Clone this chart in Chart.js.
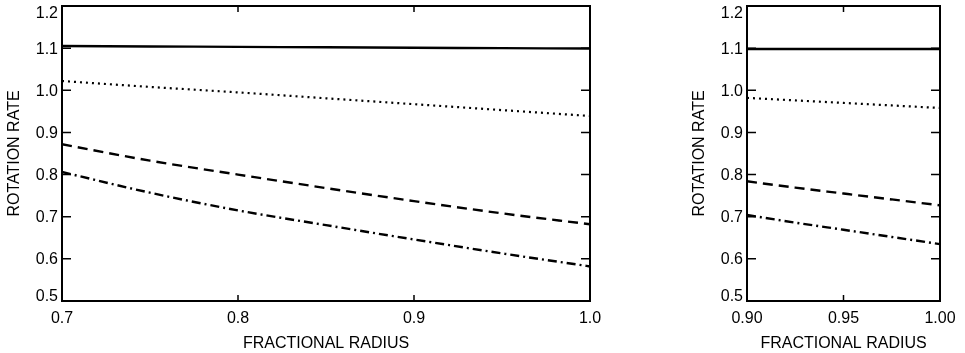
<!DOCTYPE html>
<html lang="en">
<head>
    <meta charset="UTF-8">
    <title>Rotation rate vs fractional radius</title>
    <script src="https://cdn.jsdelivr.net/npm/chart.js"></script>
    <style>
        body { margin: 0; background: #fff; }
        .box { position: absolute; top: 0; }
    </style>
</head>
<body>
    <div class="box" style="left:0px"><canvas id="chartLeft" width="610" height="353"></canvas></div>
    <div class="box" style="left:685px"><canvas id="chartRight" width="275" height="353"></canvas></div>

    <script>
        // left panel: full range 0.7 - 1.0
        const radiusLeft = [0.70, 0.75, 0.80, 0.85, 0.90, 0.95, 1.00];
        const solidLeft = [1.105, 1.104, 1.103, 1.102, 1.101, 1.100, 1.099];
        const dottedLeft = [1.022, 1.008, 0.995, 0.981, 0.967, 0.953, 0.939];
        const dashedLeft = [0.872, 0.833, 0.800, 0.768, 0.737, 0.708, 0.682];
        const dashDotLeft = [0.806, 0.757, 0.715, 0.680, 0.646, 0.613, 0.582];
        const xTicksLeft = [0.7, 0.8, 0.9, 1.0];

        // right panel: zoom on 0.90 - 1.00
        const radiusRight = [0.900, 0.925, 0.950, 0.975, 1.000];
        const solidRight = [1.098, 1.098, 1.098, 1.098, 1.098];
        const dottedRight = [0.982, 0.976, 0.970, 0.964, 0.958];
        const dashedRight = [0.784, 0.769, 0.755, 0.741, 0.727];
        const dashDotRight = [0.704, 0.686, 0.669, 0.652, 0.635];
        const xTicksRight = [0.90, 0.95, 1.00];

        const yTicks = [0.5, 0.6, 0.7, 0.8, 0.9, 1.0, 1.1, 1.2];

        const FONT = "'Liberation Sans', Arial, sans-serif";
        Chart.defaults.font.family = FONT;
        Chart.defaults.color = '#000';

        // box around the plot, inward tick marks on all four sides,
        // and y labels kept inside the plot height (end labels pushed in)
        const framePlugin = {
            id: 'frame',
            afterDatasetsDraw(chart) {
                const { ctx, chartArea: a, scales: { x, y } } = chart;
                ctx.save();
                ctx.strokeStyle = '#000';
                ctx.lineWidth = 2;
                ctx.strokeRect(a.left, a.top, a.right - a.left, a.bottom - a.top);
                ctx.lineWidth = 1.5;
                ctx.beginPath();
                y.ticks.forEach(t => {
                    const py = y.getPixelForValue(t.value);
                    ctx.moveTo(a.left, py); ctx.lineTo(a.left + 9, py);
                    ctx.moveTo(a.right, py); ctx.lineTo(a.right - 9, py);
                });
                x.ticks.forEach(t => {
                    const px = x.getPixelForValue(t.value);
                    ctx.moveTo(px, a.bottom); ctx.lineTo(px, a.bottom - 6);
                    ctx.moveTo(px, a.top); ctx.lineTo(px, a.top + 6);
                });
                ctx.stroke();

                ctx.fillStyle = '#000';
                ctx.font = '16px ' + FONT;
                ctx.textAlign = 'right';
                ctx.textBaseline = 'middle';
                y.ticks.forEach(t => {
                    let py = y.getPixelForValue(t.value);
                    py = Math.min(Math.max(py, a.top + 7), a.bottom - 5);
                    ctx.fillText(t.value.toFixed(1), a.left - 4, py + 1);
                });
                ctx.restore();
            }
        };

        function series(xs, ys, dash, width) {
            return {
                data: xs.map((v, i) => ({ x: v, y: ys[i] })),
                borderColor: '#000',
                borderWidth: width,
                borderDash: dash,
                pointRadius: 0,
                cubicInterpolationMode: 'monotone',
                fill: false
            };
        }

        function makeChart(id, xs, lines, xTicks, xMin, xMax, digits) {
            return new Chart(document.getElementById(id), {
                type: 'line',
                data: {
                    datasets: [
                        series(xs, lines[0], [], 2.4),
                        series(xs, lines[1], [2, 4], 2.2),
                        series(xs, lines[2], [10, 6], 2.4),
                        series(xs, lines[3], [9, 4, 2, 4], 2.4)
                    ]
                },
                options: {
                    responsive: false,
                    animation: false,
                    layout: { padding: { top: 6, right: 20, left: 0, bottom: 0 } },
                    plugins: { legend: { display: false }, tooltip: { enabled: false } },
                    scales: {
                        x: {
                            type: 'linear',
                            min: xMin,
                            max: xMax,
                            afterFit: s => { s.height = 52; s.paddingLeft = 0; s.paddingRight = 0; },
                            afterBuildTicks: s => { s.ticks = xTicks.map(v => ({ value: v })); },
                            grid: { display: false, drawTicks: false },
                            border: { display: false },
                            ticks: {
                                autoSkip: false,
                                maxRotation: 0,
                                padding: 8,
                                font: { size: 16 },
                                callback: v => v.toFixed(digits)
                            },
                            title: {
                                display: true,
                                text: 'FRACTIONAL RADIUS',
                                font: { size: 16 },
                                padding: { top: 5, bottom: 0 }
                            }
                        },
                        y: {
                            min: 0.5,
                            max: 1.2,
                            afterFit: s => { s.width = 62; s.paddingTop = 0; s.paddingBottom = 0; },
                            afterBuildTicks: s => { s.ticks = yTicks.map(v => ({ value: v })); },
                            grid: { display: false, drawTicks: false },
                            border: { display: false },
                            ticks: { display: false },
                            title: {
                                display: true,
                                text: 'ROTATION RATE',
                                font: { size: 16 },
                                padding: { top: 5, bottom: 0 }
                            }
                        }
                    }
                },
                plugins: [framePlugin]
            });
        }

        makeChart('chartLeft', radiusLeft,
            [solidLeft, dottedLeft, dashedLeft, dashDotLeft], xTicksLeft, 0.7, 1.0, 1);
        makeChart('chartRight', radiusRight,
            [solidRight, dottedRight, dashedRight, dashDotRight], xTicksRight, 0.9, 1.0, 2);
    </script>
</body>
</html>
